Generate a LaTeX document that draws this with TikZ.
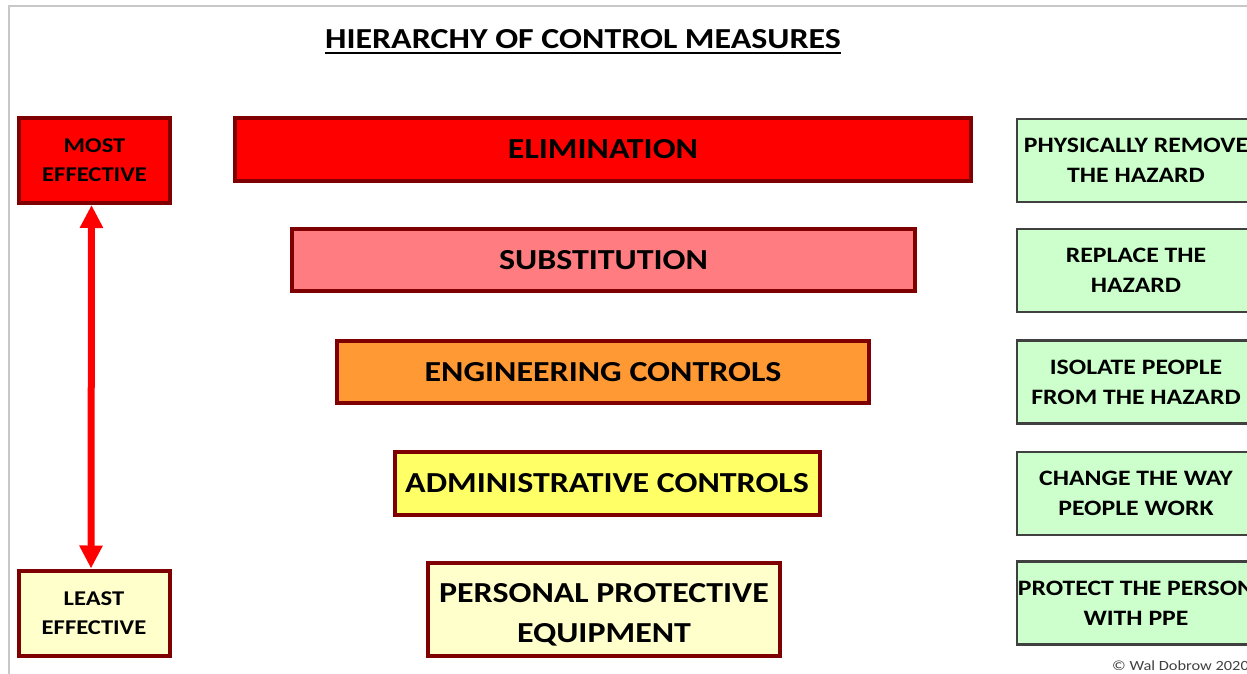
\documentclass[tikz,border=0pt]{standalone}
\usepackage{fontspec}
\setmainfont{Carlito}
\newfontfamily\widefont{Carlito}[FakeStretch=1.17]
\usetikzlibrary{arrows.meta}

\definecolor{boxred}{HTML}{FF0000}
\definecolor{boxmaroon}{HTML}{7F0000}
\definecolor{boxpink}{HTML}{FF7C80}
\definecolor{boxorange}{HTML}{FF9933}
\definecolor{boxyellow}{HTML}{FFFF66}
\definecolor{boxcream}{HTML}{FFFFCC}
\definecolor{boxgreen}{HTML}{CCFFCC}
\definecolor{edgegray}{HTML}{404040}
\definecolor{framegray}{HTML}{C8C8C8}

\tikzset{
  control/.style={draw=boxmaroon, line width=4pt, minimum height=62pt, align=center,
    inner sep=0pt, text=black, font=\widefont\bfseries\fontsize{29}{40}\selectfont},
  ends/.style={draw=boxmaroon, line width=4pt, minimum width=151pt, minimum height=85pt,
    align=center, inner sep=0pt, text=black, font=\widefont\bfseries\fontsize{21}{29}\selectfont},
  action/.style={draw=edgegray, fill=boxgreen, line width=2.5pt, minimum width=238pt,
    minimum height=83pt, align=center, inner sep=0pt, text=black,
    font=\widefont\bfseries\fontsize{22}{30}\selectfont},
}

\begin{document}
\begin{tikzpicture}[x=1pt,y=-1pt]
\useasboundingbox (0,0) rectangle (1247,674);
% sheet edges
\draw[framegray, line width=2pt] (9,674) -- (9,6) -- (1247,6);

% heading
\node[inner sep=0pt, anchor=base, font=\widefont\bfseries\fontsize{29}{29}\selectfont] (title) at (583,49) {HIERARCHY OF CONTROL MEASURES};
\draw[line width=2pt] ([yshift=-4pt]title.base west) -- ([yshift=-4pt]title.base east);

% effectiveness scale
\node[ends, fill=boxred] (most) at (94.5,160.5) {MOST\\EFFECTIVE};
\node[ends, fill=boxcream] (least) at (94,613) {LEAST\\EFFECTIVE};
\draw[boxred, line width=7pt, {Triangle[width=22pt,length=23pt]}-{Triangle[width=22pt,length=23pt]}] ([xshift=-3pt]most.south) -- ([xshift=-3pt]least.north);

% the five controls
\node[control, fill=boxred, minimum width=736pt, minimum height=63pt] (elim) at (603,149.5) {ELIMINATION};
\node[control, fill=boxpink, minimum width=623pt] (subst) at (603.5,260) {SUBSTITUTION};
\node[control, fill=boxorange, minimum width=532pt] (eng) at (603,372) {ENGINEERING CONTROLS};
\node[control, fill=boxyellow, minimum width=425pt, minimum height=63pt] (admin) at (607,483) {ADMINISTRATIVE CONTROLS};
\node[control, fill=boxcream, minimum width=352pt, minimum height=93pt] (ppe) at (604,609) {\rule{0pt}{31pt}PERSONAL PROTECTIVE\\EQUIPMENT};

% what each one does
\node[action] (remove) at (1136,160.5) {PHYSICALLY REMOVE\\THE HAZARD};
\node[action] (replace) at (1136,270.5) {REPLACE THE\\HAZARD};
\node[action] (isolate) at (1136,382) {ISOLATE PEOPLE\\FROM THE HAZARD};
\node[action] (change) at (1136,493.5) {CHANGE THE WAY\\PEOPLE WORK};
\node[action] (protect) at (1136,603) {PROTECT THE PERSON\\WITH PPE};

\node[anchor=base west, inner sep=0pt, text=black!75, font=\widefont\fontsize{14}{14}\selectfont] (credit) at (1112,670) {© Wal Dobrow 2020};
\end{tikzpicture}
\end{document}
